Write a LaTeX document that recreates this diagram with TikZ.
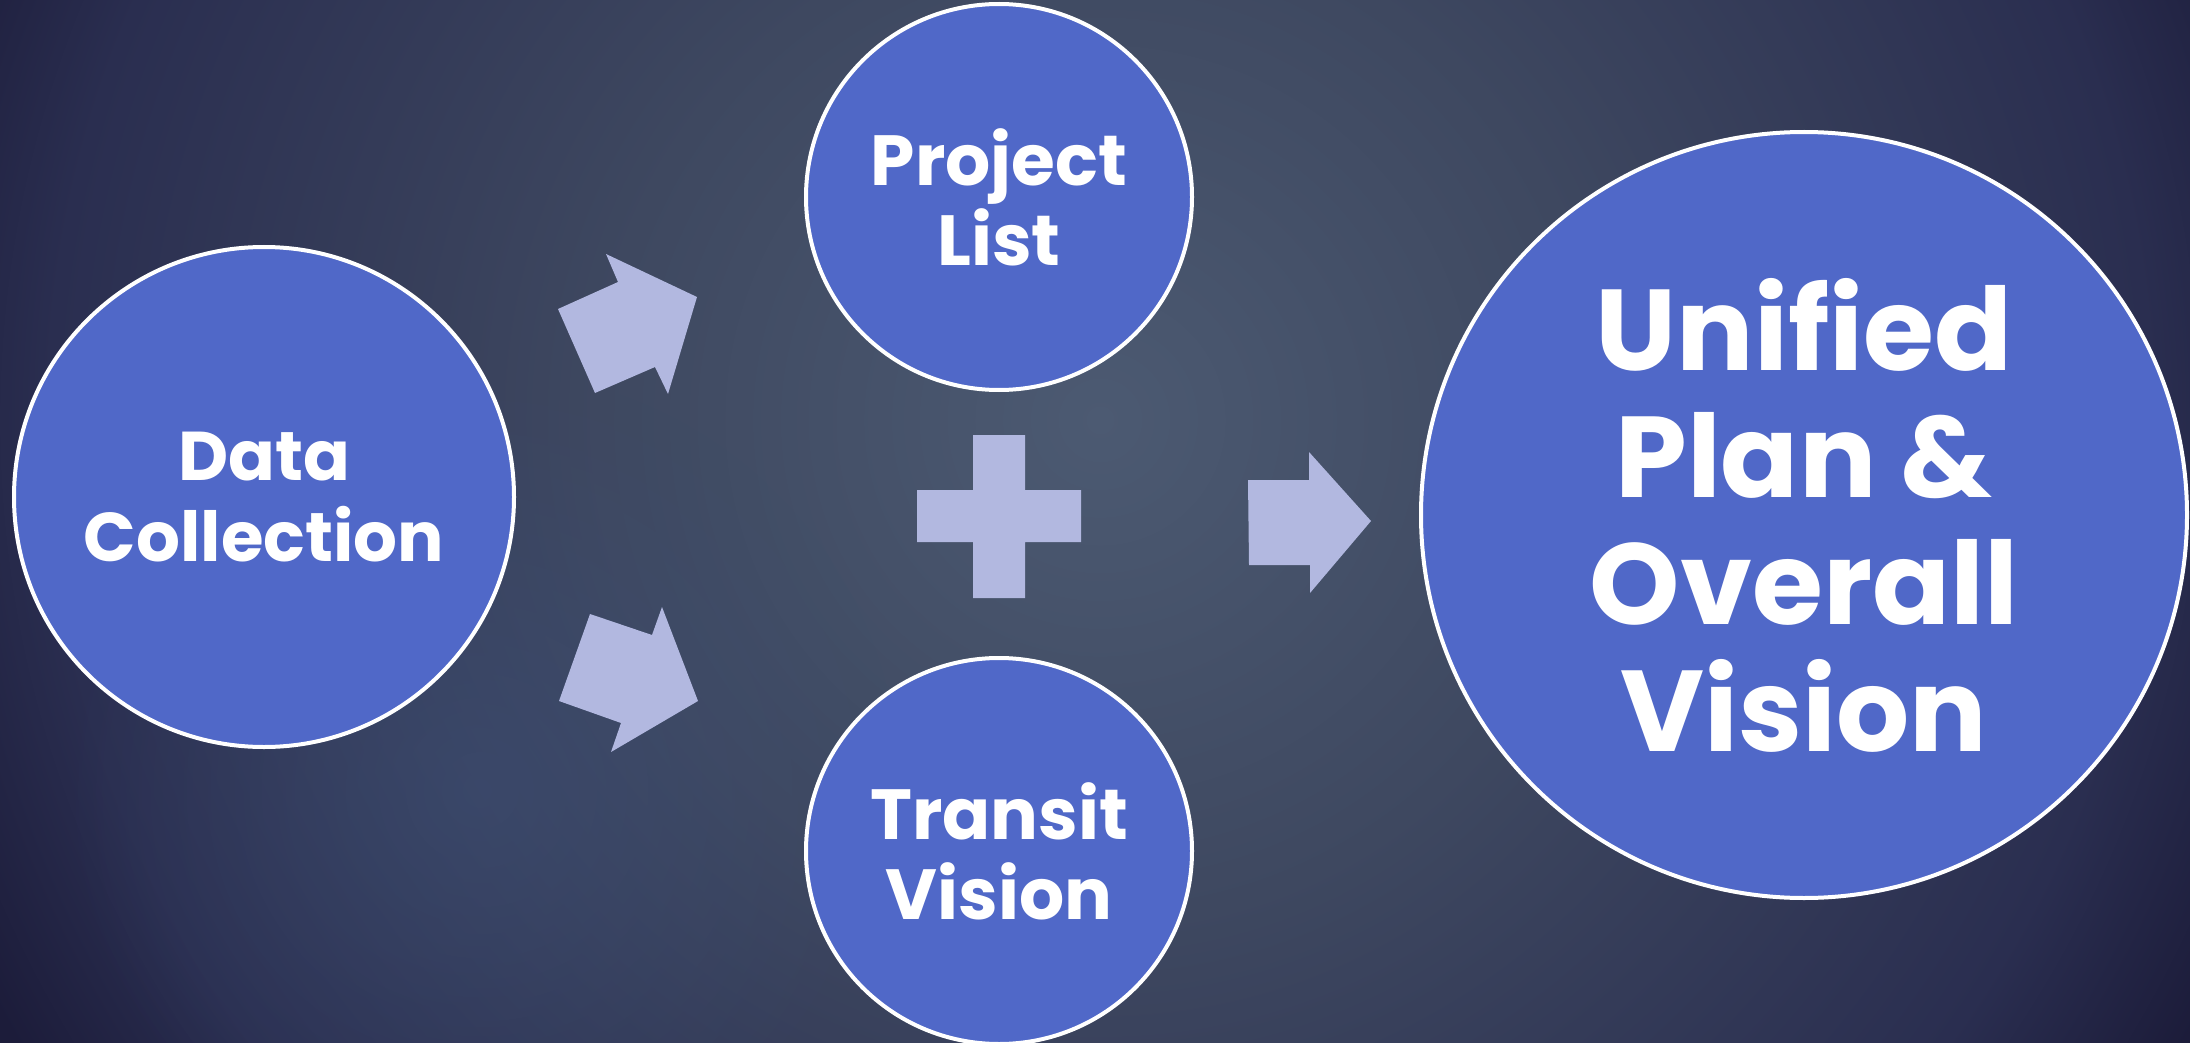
\documentclass[tikz,border=0pt]{standalone}
\usepackage{fontspec}
\usetikzlibrary{fadings}
\setmainfont{Poppins}[BoldFont={* Bold}]
\definecolor{bgin}{RGB}{76,90,114}
\definecolor{bgmid}{RGB}{62,72,96}
\definecolor{bgedge}{RGB}{42,46,80}
\definecolor{bgout}{RGB}{28,28,58}
\definecolor{spotblue}{RGB}{62,80,118}
\definecolor{circfill}{RGB}{80,104,200}
\definecolor{arrfill}{RGB}{178,184,224}
\pgfdeclareradialshading{bgshade}{\pgfpoint{0bp}{0bp}}{color(0bp)=(bgin); color(10bp)=(bgmid); color(21bp)=(bgedge); color(25bp)=(bgout); color(50bp)=(bgout)}
\tikzfading[name=spotfade, inner color=transparent!45, outer color=transparent!100]
\begin{document}
\begin{tikzpicture}[x=1pt,y=-1pt,
  bubble/.style={circle, draw=white, line width=4pt, fill=circfill, inner sep=0pt, text=white, font=\bfseries, align=center},
  shapefill/.style={fill=arrfill, draw=none}]
\useasboundingbox (0,0) rectangle (2190,1043);
\fill[bgout] (0,0) rectangle (2190,1043);
\begin{scope}
\clip (0,0) rectangle (2190,1043);
\shade[shading=bgshade] (1100,420) circle[radius=1250];
\fill[spotblue, path fading=spotfade] (480,790) circle[radius=420];
\end{scope}
% circles
\node[bubble, minimum size=500pt, font=\fontsize{69}{81}\selectfont\bfseries] (data) at (264,497) {Data\\Collection};
\node[bubble, minimum size=386pt, font=\fontsize{71}{80}\selectfont\bfseries] (proj) at (999,197) {Project\\List};
\node[bubble, minimum size=386pt, font=\fontsize{71}{80}\selectfont\bfseries] (trans) at (999,851) {Transit\\Vision};
\node[bubble, minimum size=766pt, font=\fontsize{115}{127}\selectfont\bfseries] (unif) at (1804,515) {Unified\\Plan \&\\Overall\\Vision};
% arrows
\fill[shapefill] (558,309) -- (618,282) -- (606,254) -- (697,297) -- (668,394) -- (655,367) -- (595,393) -- cycle;
\fill[shapefill] (590,614) -- (652,635) -- (662,607) -- (698,701) -- (611,752) -- (621,723) -- (559,701) -- cycle;
\fill[shapefill] (1248,480) -- (1309,480) -- (1309,452) -- (1371,521) -- (1310,593) -- (1310,565) -- (1249,565) -- cycle;
% plus
\fill[shapefill] (973,435) -- (1025,435) -- (1025,490) -- (1081,490) -- (1081,542) -- (1025,542) -- (1025,598) -- (973,598) -- (973,542) -- (917,542) -- (917,490) -- (973,490) -- cycle;
\end{tikzpicture}
\end{document}
